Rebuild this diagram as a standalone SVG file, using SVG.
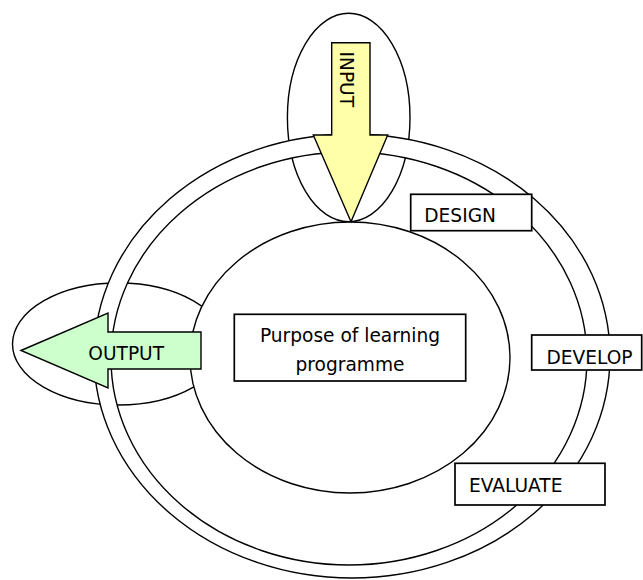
<svg xmlns="http://www.w3.org/2000/svg" width="643" height="580" viewBox="0 0 643 580">
  <style>
    .shape { fill: #ffffff; stroke: #000000; stroke-width: 1.4; }
    .box { fill: #ffffff; stroke: #000000; stroke-width: 1.7; }
    .label { font-family: "DejaVu Sans", Verdana, sans-serif; font-size: 18.6px; fill: #000000; }
    .in-arrow { fill: #ffffaa; stroke: #000000; stroke-width: 1.4; stroke-linejoin: miter; }
    .out-arrow { fill: #ccffcc; stroke: #000000; stroke-width: 1.4; stroke-linejoin: miter; }
  </style>

  <rect width="643" height="580" fill="#ffffff"/>

  <!-- zones feeding in and out of the cycle -->
  <g id="input-zone">
    <ellipse class="shape" cx="348.7" cy="117.5" rx="61.3" ry="104.2"/>
  </g>
  <g id="output-zone">
    <ellipse class="shape" cx="118.5" cy="344" rx="106" ry="61"/>
  </g>

  <!-- design / develop / evaluate cycle band -->
  <g id="cycle-ring">
    <path class="shape" fill-rule="evenodd"
          d="M 94 356 A 258 222 0 1 0 610 356 A 258 222 0 1 0 94 356 Z
             M 111 358.5 A 238 206.5 0 1 0 587 358.5 A 238 206.5 0 1 0 111 358.5 Z"/>
  </g>

  <!-- core -->
  <g id="purpose">
    <ellipse class="shape" cx="350" cy="357.5" rx="160" ry="135.5"/>
    <rect class="box" x="234.3" y="314.3" width="231.4" height="66.7"/>
    <text class="label" x="350" y="342.3" text-anchor="middle">Purpose of learning</text>
    <text class="label" x="350" y="370.7" text-anchor="middle">programme</text>
  </g>

  <g id="design">
    <rect class="box" x="410.7" y="194.3" width="121" height="36.4"/>
    <text class="label" x="424.3" y="221.7">DESIGN</text>
  </g>

  <g id="develop">
    <rect class="box" x="531.7" y="335" width="110" height="35"/>
    <text class="label" x="546.5" y="364.3">DEVELOP</text>
  </g>

  <g id="evaluate">
    <rect class="box" x="455" y="463.3" width="150" height="41.7"/>
    <text class="label" x="469" y="492.3">EVALUATE</text>
  </g>

  <!-- block arrows -->
  <g id="connectors">
    <g id="input-arrow">
      <polygon class="in-arrow" points="331.7,42.7 370,42.7 370,135 387.7,135 351,221.7 313.3,135 331.7,135"/>
      <text class="label" transform="translate(340,51.5) rotate(90)">INPUT</text>
    </g>
    <g id="output-arrow">
      <polygon class="out-arrow" points="21,350.5 108,313 108,332 201,332 201,369 108,369 108,388"/>
      <text class="label" x="88.3" y="359.5">OUTPUT</text>
    </g>
  </g>
</svg>
